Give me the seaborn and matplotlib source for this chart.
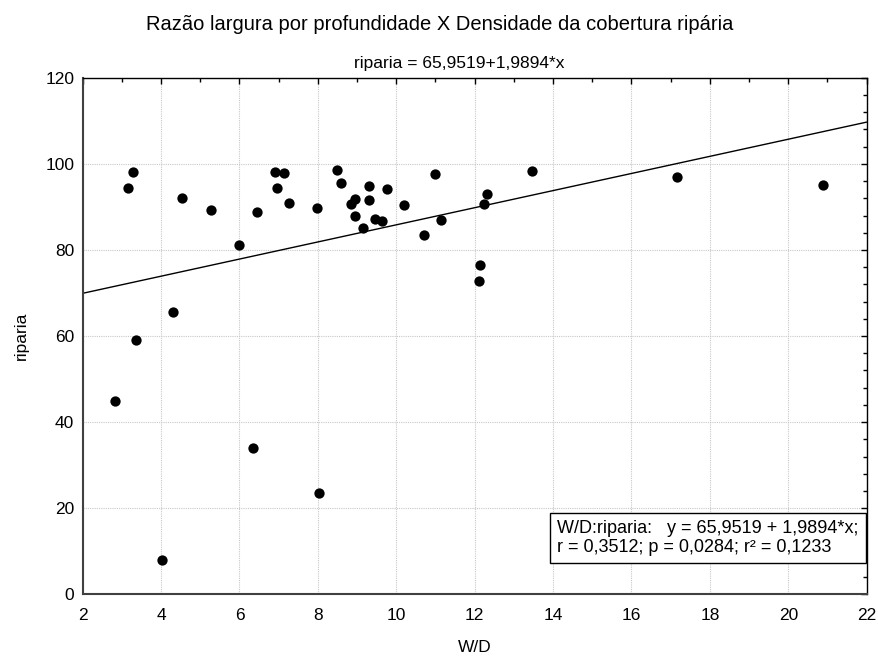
import matplotlib
matplotlib.use("Agg")
import matplotlib.pyplot as plt
import seaborn as sns
import numpy as np
import pandas as pd
from matplotlib.ticker import MultipleLocator

wd = [2.82, 3.16, 3.28, 3.35, 4.03, 4.31, 4.54, 5.27, 6.00, 6.34,
      6.44, 6.91, 6.95, 7.14, 7.27, 7.99, 8.04, 8.48, 8.59, 8.84,
      8.96, 8.96, 9.14, 9.30, 9.30, 9.46, 9.64, 9.76, 10.21, 10.71,
      11.00, 11.14, 12.11, 12.14, 12.25, 12.31, 13.45, 17.15, 20.89]
riparia = [45.0, 94.5, 98.2, 59.1, 8.0, 65.6, 92.1, 89.4, 81.2, 34.1,
           88.8, 98.2, 94.3, 97.9, 91.0, 89.7, 23.6, 98.7, 95.5, 90.7,
           91.9, 87.8, 85.0, 94.8, 91.5, 87.2, 86.7, 94.2, 90.5, 83.5,
           97.6, 87.0, 72.9, 76.6, 90.8, 93.1, 98.4, 96.9, 95.0]
intercept = 65.9519
slope = 1.9894

title = "Razão largura por profundidade X Densidade da cobertura ripária"
subtitle = "riparia = 65,9519+1,9894*x"
box_text = "W/D:riparia:   y = 65,9519 + 1,9894*x;\nr = 0,3512; p = 0,0284; r² = 0,1233"

sns.set_theme(style="white")
plt.rcParams['font.family'] = ['Liberation Sans', 'DejaVu Sans']

df = pd.DataFrame({"W/D": wd, "riparia": riparia})

fig = plt.figure(figsize=(8.79, 6.57), dpi=100)
ax = fig.add_axes([0.094, 0.0955, 0.892, 0.786])

xs = np.array([2.0, 22.0])
ax.plot(xs, intercept + slope * xs, color="black", lw=1.0, zorder=2)
sns.scatterplot(data=df, x="W/D", y="riparia", ax=ax, color="black",
                s=55, edgecolor="black", linewidth=0, zorder=3)

ax.set_xlim(2, 22)
ax.set_ylim(0, 120)
ax.xaxis.set_major_locator(MultipleLocator(2))
ax.xaxis.set_minor_locator(MultipleLocator(1))
ax.yaxis.set_major_locator(MultipleLocator(20))
ax.yaxis.set_minor_locator(MultipleLocator(4))
ax.tick_params(which="both", direction="in", top=True, right=True,
               labelsize=12.5, colors="black")
ax.tick_params(axis="x", which="major", pad=10)
ax.tick_params(axis="y", which="major", pad=6)
ax.tick_params(which="major", length=4, width=1)
ax.tick_params(which="minor", length=3, width=1)
ax.grid(True, which="major", color="#c8c8c8", linestyle=(0, (1, 1)), lw=0.8)
for name, sp in ax.spines.items():
    sp.set_color("black" if name in ("top", "right") else "#404040")
    sp.set_linewidth(1.0 if name in ("top", "right") else 1.5)
    sp.set_visible(True)

ax.set_xlabel("W/D", fontsize=12.5, color="black", labelpad=12)
ax.set_ylabel("riparia", fontsize=12.5, color="black", labelpad=12)

fig.text(0.5, 0.962, title, ha="center", va="center", fontsize=14.5, color="black")
fig.text(0.523, 0.904, subtitle, ha="center", va="center", fontsize=12.5, color="black")

ax.text(0.9893, 0.109, box_text, transform=ax.transAxes, ha="right", va="center",
        multialignment="left",
        fontsize=13, color="black", linespacing=1.15,
        bbox=dict(boxstyle="square,pad=0.4", fc="white", ec="black", lw=1.0),
        zorder=5)

fig.savefig("out.png", dpi=100)
